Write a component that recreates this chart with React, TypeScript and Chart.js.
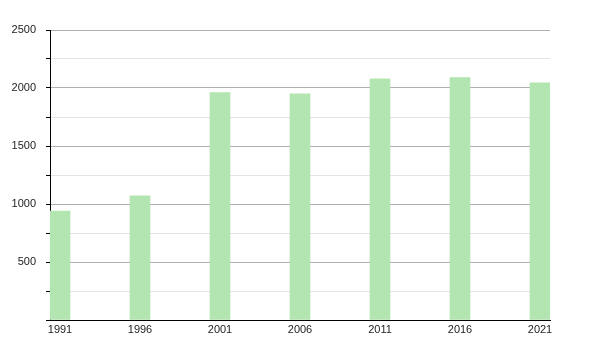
import React, { useEffect, useRef } from "react";
import { Chart, registerables } from "chart.js";

Chart.register(...registerables);

const years = [1991, 1996, 2001, 2006, 2011, 2016, 2021];
const population = [940, 1070, 1960, 1950, 2080, 2090, 2045];
const yTickValues = [500, 1000, 1500, 2000, 2500];

export default function App() {
  const ref = useRef<HTMLCanvasElement | null>(null);

  useEffect(() => {
    if (!ref.current) return;
    const font = { family: "'Liberation Sans', Arial, sans-serif", size: 11 };
    const chart = new Chart(ref.current, {
      type: "bar",
      data: {
        datasets: [
          {
            data: years.map((y, i) => ({ x: y, y: population[i] })),
            backgroundColor: "#b3e5b1",
            borderWidth: 0,
            barThickness: 20,
          },
        ],
      },
      options: {
        animation: false,
        responsive: false,
        maintainAspectRatio: false,
        layout: { padding: { top: 30, right: 50, left: 0, bottom: 0 } },
        plugins: { legend: { display: false }, tooltip: { enabled: false } },
        scales: {
          x: {
            type: "linear",
            offset: false,
            min: years[0] - 0.625,
            max: years[years.length - 1] + 0.625,
            afterBuildTicks: (scale: any) => {
              scale.ticks = years.map((v) => ({ value: v }));
            },
            afterFit: (scale: any) => {
              scale.height = 30;
            },
            grid: { display: false, drawTicks: false, offset: false },
            border: { display: true, color: "#000", width: 1 },
            ticks: {
              font,
              color: "#222",
              padding: 3,
              maxRotation: 0,
              autoSkip: false,
              callback: (v: any) => String(v),
            },
          },
          y: {
            min: 0,
            max: 2500,
            afterFit: (scale: any) => {
              scale.width = 50;
            },
            ticks: {
              stepSize: 250,
              font,
              color: "#222",
              padding: 10,
              callback: (v: any) => (v !== 0 && yTickValues.includes(v) ? String(v) : ""),
            },
            grid: {
              color: (ctx: any) =>
                ctx.tick && ctx.tick.value % 500 === 0 ? "#b0b0b0" : "#e4e4e4",
              tickColor: "#000",
              tickLength: 4,
              lineWidth: 1,
            },
            border: { display: true, color: "#000", width: 1 },
          },
        },
      },
    });
    return () => chart.destroy();
  }, []);

  return (
    <div style={{ position: "absolute", left: 0, top: 0, width: 600, height: 350, background: "#fff" }}>
      <canvas ref={ref} width={600} height={350} style={{ width: 600, height: 350 }} />
    </div>
  );
}
